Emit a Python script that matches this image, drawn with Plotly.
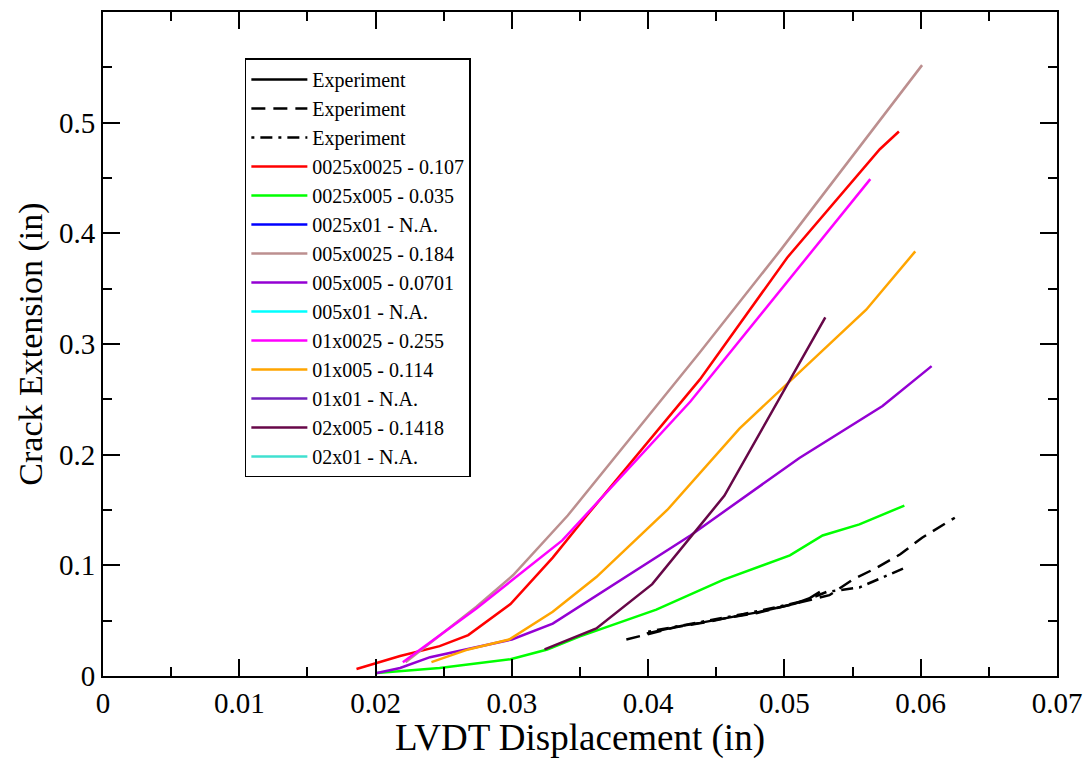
import plotly.graph_objects as go

# ---- data ----
exp_solid_x = [0.0399, 0.0412, 0.0425, 0.0438, 0.0452, 0.0466, 0.0480, 0.0494, 0.0508, 0.0518, 0.0526]
exp_solid_y = [0.0385, 0.0420, 0.0455, 0.0480, 0.0510, 0.0545, 0.0575, 0.0615, 0.0655, 0.0700, 0.0760]

exp_dash_x = [0.0384, 0.0401, 0.0420, 0.0440, 0.0460, 0.0480, 0.0500, 0.0520, 0.0533, 0.0550, 0.0568, 0.0585, 0.0601, 0.0625]
exp_dash_y = [0.0330, 0.0385, 0.0440, 0.0480, 0.0530, 0.0570, 0.0630, 0.0690, 0.0730, 0.0870, 0.0980, 0.1100, 0.1250, 0.1430]

exp_dd_x = [0.0400, 0.0420, 0.0445, 0.0470, 0.0495, 0.0515, 0.0531, 0.0555, 0.0570, 0.0587]
exp_dd_y = [0.0400, 0.0445, 0.0500, 0.0560, 0.0625, 0.0680, 0.0760, 0.0800, 0.0880, 0.0970]

r_x = [0.0186, 0.0218, 0.0247, 0.0268, 0.0299, 0.0330, 0.0355, 0.0438, 0.0502, 0.0570, 0.0584]
r_y = [0.0063, 0.0180, 0.0270, 0.0370, 0.0650, 0.1070, 0.1450, 0.2680, 0.3780, 0.4760, 0.4920]

g_x = [0.0201, 0.0247, 0.0299, 0.0326, 0.0350, 0.0406, 0.0455, 0.0504, 0.0528, 0.0555, 0.0588]
g_y = [0.0027, 0.0072, 0.0152, 0.0240, 0.0358, 0.0600, 0.0868, 0.1090, 0.1270, 0.1370, 0.1540]

br_x = [0.0222, 0.0274, 0.0301, 0.0341, 0.0438, 0.0497, 0.0601]
br_y = [0.0125, 0.0626, 0.0912, 0.1450, 0.2925, 0.3846, 0.5520]

v_x = [0.0201, 0.0218, 0.0240, 0.0267, 0.0300, 0.0330, 0.0431, 0.0511, 0.0572, 0.0608]
v_y = [0.0027, 0.0072, 0.0170, 0.0240, 0.0330, 0.0474, 0.1270, 0.1970, 0.2440, 0.2800]

m_x = [0.0220, 0.0274, 0.0337, 0.0431, 0.0563]
m_y = [0.0125, 0.0610, 0.1225, 0.2480, 0.4490]

o_x = [0.0241, 0.0268, 0.0298, 0.0330, 0.0362, 0.0414, 0.0467, 0.0560, 0.0596]
o_y = [0.0125, 0.0240, 0.0330, 0.0580, 0.0894, 0.1500, 0.2236, 0.3310, 0.3837]

mr_x = [0.0324, 0.0362, 0.0403, 0.0431, 0.0456, 0.0530]
mr_y = [0.0240, 0.0430, 0.0830, 0.1250, 0.1630, 0.3240]

x_ticks = [0, 0.01, 0.02, 0.03, 0.04, 0.05, 0.06, 0.07]
x_tick_text = ["0", "0.01", "0.02", "0.03", "0.04", "0.05", "0.06", "0.07"]
y_ticks = [0, 0.1, 0.2, 0.3, 0.4, 0.5]
y_tick_text = ["0", "0.1", "0.2", "0.3", "0.4", "0.5"]

series = [
    ("Experiment", exp_solid_x, exp_solid_y, "black", "solid"),
    ("Experiment", exp_dash_x, exp_dash_y, "black", "14px,8px"),
    ("Experiment", exp_dd_x, exp_dd_y, "black", "3px,6px,12px,6px"),
    ("0025x0025 - 0.107", r_x, r_y, "#FF0000", "solid"),
    ("0025x005 - 0.035", g_x, g_y, "#00FF00", "solid"),
    ("0025x01 - N.A.", [None], [None], "#0000FF", "solid"),
    ("005x0025 - 0.184", br_x, br_y, "#BC8F8F", "solid"),
    ("005x005 - 0.0701", v_x, v_y, "#9400D3", "solid"),
    ("005x01 - N.A.", [None], [None], "#00FFFF", "solid"),
    ("01x0025 - 0.255", m_x, m_y, "#FF00FF", "solid"),
    ("01x005 - 0.114", o_x, o_y, "#FFA500", "solid"),
    ("01x01 - N.A.", [None], [None], "#7221BC", "solid"),
    ("02x005 - 0.1418", mr_x, mr_y, "#670748", "solid"),
    ("02x01 - N.A.", [None], [None], "#40E0D0", "solid"),
]

fig = go.Figure()
for name, xs, ys, col, dash in series:
    fig.add_trace(go.Scatter(x=xs, y=ys, mode="lines", name=name,
                             line=dict(color=col, width=2.5, dash=dash)))

font_family = "Liberation Serif"
axis_common = dict(showline=True, linecolor="black", linewidth=2, mirror="allticks",
                   ticks="inside", ticklen=17, tickwidth=2, tickcolor="black",
                   showgrid=False, zeroline=False,
                   tickfont=dict(family=font_family, size=29, color="black"))

fig.update_layout(
    width=1092, height=759,
    margin=dict(l=103, r=34, t=10, b=79),
    paper_bgcolor="white", plot_bgcolor="white",
    font=dict(family=font_family, color="black"),
    xaxis=dict(range=[0, 0.07], tickvals=x_ticks, ticktext=x_tick_text,
               minor=dict(ticks="inside", ticklen=9, tickwidth=2, tickcolor="black", dtick=0.005),
               title=dict(text="LVDT Displacement (in)", font=dict(family=font_family, size=37), standoff=4),
               **axis_common),
    yaxis=dict(range=[0, 0.6], tickvals=y_ticks, ticktext=y_tick_text,
               minor=dict(ticks="inside", ticklen=9, tickwidth=2, tickcolor="black", dtick=0.05),
               title=dict(text="Crack Extension (in)", font=dict(family=font_family, size=34), standoff=6),
               **axis_common),
    legend=dict(x=0.1487, y=0.93, xanchor="left", yanchor="top",
                bgcolor="white", bordercolor="black", borderwidth=1.5,
                font=dict(family=font_family, size=20, color="black"),
                itemwidth=56, tracegroupgap=0),
    showlegend=True,
)

fig.write_html("out.html")
